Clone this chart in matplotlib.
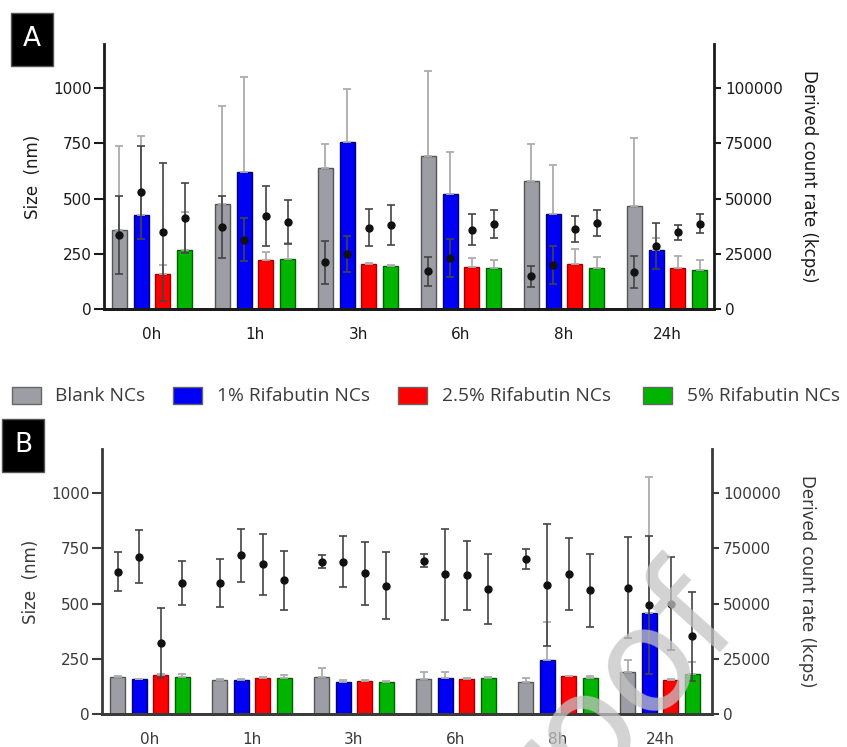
# stability_plot.py
# Size (bars) and derived count rate (dots) of the nanocapsules over 24h
import matplotlib.pyplot as plt
from matplotlib.patches import Rectangle
import numpy as np

# time points and formulations
times = ['0h', '1h', '3h', '6h', '8h', '24h']
series = ['Blank NCs', '1% Rifabutin NCs', '2.5% Rifabutin NCs', '5% Rifabutin NCs']

# panel A - size (nm), bars
a_size_blank = [360, 477, 639, 695, 579, 465]
a_size_1 = [427, 619, 758, 520, 432, 267]
a_size_25 = [160, 220, 205, 190, 205, 184]
a_size_5 = [266, 228, 193, 184, 184, 178]
a_size_err_blank = [380, 444, 109, 382, 169, 311]
a_size_err_1 = [358, 431, 236, 191, 218, 53]
a_size_err_25 = [40, 40, 4, 41, 67, 56]
a_size_err_5 = [175, 70, 7, 36, 53, 42]

# panel A - derived count rate (kcps), dots
a_kcps_blank = [33500, 37000, 21100, 17100, 14800, 16600]
a_kcps_1 = [52900, 31400, 24900, 23100, 19800, 28700]
a_kcps_25 = [34900, 42000, 36900, 36000, 36100, 34700]
a_kcps_5 = [41200, 39300, 38100, 38400, 38800, 38700]
a_kcps_err_blank = [17500, 14000, 9900, 6600, 4700, 7300]
a_kcps_err_1 = [21000, 9700, 8300, 8800, 8700, 10400]
a_kcps_err_25 = [31400, 13600, 8500, 6800, 5800, 3500]
a_kcps_err_5 = [15900, 9900, 9000, 6300, 5900, 4500]

# panel B - size (nm), bars
b_size_blank = [167, 156, 168, 160, 147, 192]
b_size_1 = [158, 156, 144, 163, 245, 458]
b_size_25 = [176, 165, 149, 159, 171, 156]
b_size_5 = [168, 165, 147, 165, 165, 182]
b_size_err_blank = [4, 3, 41, 31, 15, 52]
b_size_err_1 = [2, 2, 8, 28, 173, 616]
b_size_err_25 = [3, 2, 3, 3, 3, 3]
b_size_err_5 = [13, 11, 3, 3, 9, 54]

# panel B - derived count rate (kcps), dots
b_kcps_blank = [64500, 59300, 69000, 69500, 70000, 57200]
b_kcps_1 = [71300, 71800, 69000, 63200, 58400, 49200]
b_kcps_25 = [32200, 67700, 63700, 62800, 63400, 49900]
b_kcps_5 = [59300, 60500, 58100, 56600, 56000, 35100]
b_kcps_err_blank = [8700, 11000, 3000, 2800, 4500, 23000]
b_kcps_err_1 = [12000, 12000, 11500, 20700, 27700, 31300]
b_kcps_err_25 = [16000, 13600, 14400, 15500, 16200, 21000]
b_kcps_err_5 = [9800, 13400, 15200, 15700, 16400, 20300]

colors = ['#9d9da5', '#0000f5', '#ff0000', '#00b400']
edges = ['#555555', '#00007a', '#a00000', '#006000']

W, H = 847, 747
fig = plt.figure(figsize=(W / 100, H / 100), dpi=100)


def rect(l, t, r, b):
    # pixel box -> figure fraction
    return [l / W, (H - b) / H, (r - l) / W, (b - t) / H]


def panel(box, xlim, sizes, size_errs, rates, rate_errs, ink):
    ax = fig.add_axes(rect(*box))
    ax2 = ax.twinx()
    x = np.arange(len(times))
    step = 0.211
    for i in range(4):
        pos = x + (i - 1.5) * step
        ax.bar(pos, sizes[i], width=0.146, color=colors[i], edgecolor=edges[i],
               linewidth=1, zorder=2)
        err = [np.zeros(len(times)), size_errs[i]]
        ax.errorbar(pos, sizes[i], yerr=err, fmt='none', ecolor='#adadad',
                    elinewidth=1.3, capsize=3, capthick=1.3, zorder=3)
        ax2.errorbar(pos, rates[i], yerr=rate_errs[i], fmt='o', color='#111111',
                     markersize=5, ecolor='#444444', elinewidth=1.2,
                     capsize=3, capthick=1.2, zorder=4)
    ax.set_xlim(*xlim)
    ax.set_ylim(0, 1200)
    ax2.set_ylim(0, 120000)
    ax.set_yticks([0, 250, 500, 750, 1000])
    ax2.set_yticks([0, 25000, 50000, 75000, 100000])
    ax.set_xticks(x)
    ax.set_xticklabels(times)
    for a in (ax, ax2):
        a.spines['top'].set_visible(False)
        for s in ('left', 'right', 'bottom'):
            a.spines[s].set_linewidth(2)
            a.spines[s].set_color(ink)
        a.tick_params(axis='y', colors=ink, labelsize=11, width=1.5)
    ax.spines['right'].set_visible(False)
    ax2.spines['left'].set_visible(False)
    ax.tick_params(axis='y', length=7, pad=2)
    ax2.tick_params(axis='y', length=5, pad=3)
    ax.tick_params(axis='x', length=0, pad=13, labelsize=11, colors=ink)
    ax.set_ylabel('Size  (nm)', fontsize=12, color=ink, labelpad=8)
    ax2.set_ylabel('Derived count rate (kcps)', fontsize=12, color=ink,
                   rotation=270, labelpad=25)
    ax.set_zorder(ax2.get_zorder() - 1)
    ax.patch.set_visible(True)
    ax2.patch.set_visible(False)
    return ax


panel((104, 44, 714, 309), (-0.466, 5.456),
      [a_size_blank, a_size_1, a_size_25, a_size_5],
      [a_size_err_blank, a_size_err_1, a_size_err_25, a_size_err_5],
      [a_kcps_blank, a_kcps_1, a_kcps_25, a_kcps_5],
      [a_kcps_err_blank, a_kcps_err_1, a_kcps_err_25, a_kcps_err_5], '#1a1a1a')

panel((102, 449, 712, 714), (-0.47, 5.51),
      [b_size_blank, b_size_1, b_size_25, b_size_5],
      [b_size_err_blank, b_size_err_1, b_size_err_25, b_size_err_5],
      [b_kcps_blank, b_kcps_1, b_kcps_25, b_kcps_5],
      [b_kcps_err_blank, b_kcps_err_1, b_kcps_err_25, b_kcps_err_5], '#3a3a3a')

# panel letters
for letter, (l, t, r, b) in [('A', (11, 13, 53, 66)), ('B', (2, 419, 44, 472))]:
    fig.patches.append(Rectangle((l / W, (H - b) / H), (r - l) / W, (b - t) / H,
                                 transform=fig.transFigure, facecolor='black',
                                 edgecolor='#555555', zorder=5))
    fig.text((l + r) / 2 / W, (H - (t + b) / 2) / H, letter, color='white',
             fontsize=19, ha='center', va='center', zorder=6)

# shared legend
leg_sq = [12, 173, 398, 643]
leg_tx = [55, 217, 442, 687]
for i in range(4):
    fig.patches.append(Rectangle((leg_sq[i] / W, (H - 404) / H), 29 / W, 17 / H,
                                 transform=fig.transFigure, facecolor=colors[i],
                                 edgecolor='#666666', linewidth=1))
    fig.text(leg_tx[i] / W, (H - 396) / H, series[i], fontsize=13.8,
             family='Open Sans', color='#3a3a3a', ha='left', va='center')

# journal watermark
fig.text(614 / W, (H - 694) / H, 'roof', fontsize=105, color='#c4c4c4', alpha=0.75,
         rotation=48, rotation_mode='anchor', ha='center', va='center', zorder=10)

fig.savefig('out.png', dpi=100)
